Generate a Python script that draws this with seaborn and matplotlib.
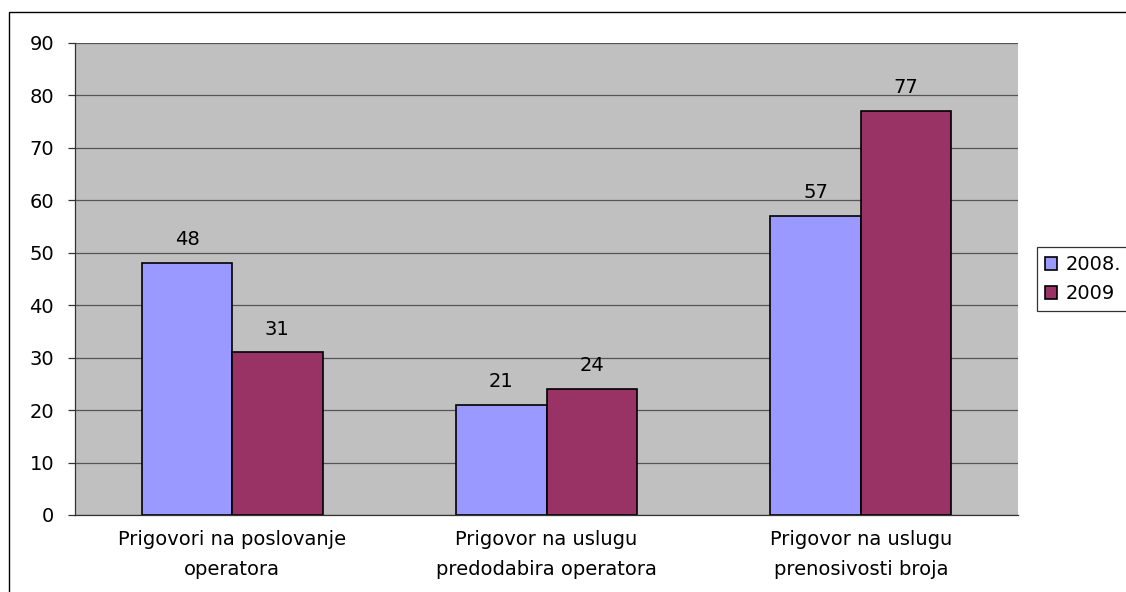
import matplotlib
matplotlib.use("Agg")
import matplotlib.pyplot as plt
from matplotlib.patches import Rectangle
import seaborn as sns
import pandas as pd

categories = [
    "Prigovori na poslovanje\noperatora",
    "Prigovor na uslugu\npredodabira operatora",
    "Prigovor na uslugu\nprenosivosti broja",
]
years = ["2008.", "2009"]
values_2008 = [48, 21, 57]
values_2009 = [31, 24, 77]
colors = ["#9999FF", "#993366"]
y_ticks = list(range(0, 91, 10))

df = pd.DataFrame({
    "category": categories * 2,
    "year": [years[0]] * 3 + [years[1]] * 3,
    "value": values_2008 + values_2009,
})

sns.set_theme(style="white")
plt.rcParams["font.family"] = ["DejaVu Sans"]
plt.rcParams["text.color"] = "black"
FS = 14

fig = plt.figure(figsize=(11.26, 5.92), dpi=100)
ax = fig.add_axes([75 / 1126, 77 / 592, 943 / 1126, 472 / 592])
ax.set_facecolor("#C0C0C0")

sns.barplot(data=df, x="category", y="value", hue="year", hue_order=years,
            order=categories, palette=colors, width=0.575, saturation=1,
            edgecolor="black", linewidth=1.2, ax=ax, legend=True)

ax.set_ylim(0, 90)
ax.set_xlim(-0.5, 2.5)
ax.set_yticks(y_ticks)
ax.set_yticklabels([str(t) for t in y_ticks], fontsize=FS, color="black")
ax.yaxis.grid(True, color="#555555", linewidth=0.9)
ax.set_axisbelow(True)
ax.set_xlabel("")
ax.set_ylabel("")

# category labels centred, ticks at category boundaries
ax.set_xticks([0, 1, 2])
ax.set_xticklabels(categories, fontsize=FS, linespacing=1.7, color="black")
ax.tick_params(axis="x", length=0, pad=11)
ax.set_xticks([-0.5, 0.5, 1.5, 2.5], minor=True)
ax.tick_params(axis="x", which="minor", length=5, color="#333333", width=0.9)
ax.tick_params(axis="y", length=5, color="#333333", width=0.9, pad=10, left=True)

for side in ["top", "right"]:
    ax.spines[side].set_visible(False)
for side in ["left", "bottom"]:
    ax.spines[side].set_color("#333333")
    ax.spines[side].set_linewidth(0.9)

for container in ax.containers:
    ax.bar_label(container, fmt="%d", padding=10, fontsize=FS, color="black")

handles, labels = ax.get_legend_handles_labels()
ax.legend_.remove()
leg = fig.legend(handles, labels, loc="center left",
                 bbox_to_anchor=(1037 / 1126, 1 - 279 / 592),
                 frameon=True, fancybox=False, fontsize=FS,
                 handlelength=0.65, handleheight=0.65, handletextpad=0.4,
                 borderpad=0.4, labelspacing=0.5, borderaxespad=0)
leg.get_frame().set_edgecolor("black")
leg.get_frame().set_linewidth(0.9)

# outer chart border
fig.patches.append(Rectangle((9 / 1126, -0.05), 1.1, 1 - 12 / 592 + 0.05,
                             transform=fig.transFigure, fill=False,
                             edgecolor="black", linewidth=1.0))

fig.savefig("out.png", dpi=100)
